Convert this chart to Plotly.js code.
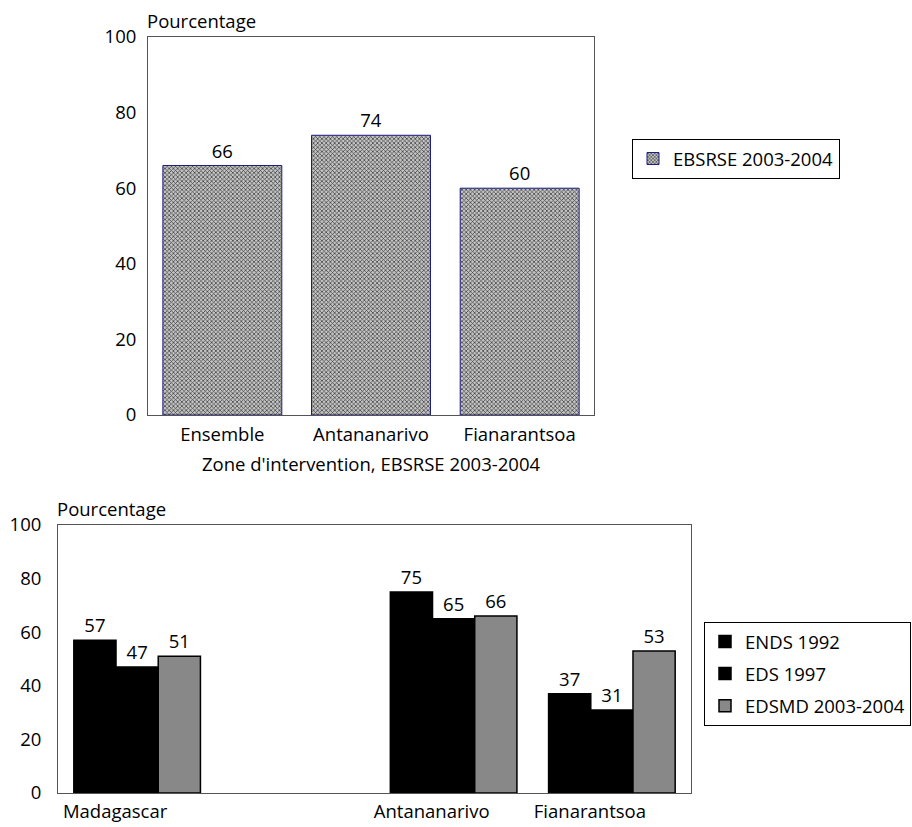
<!DOCTYPE html>
<html>
<head>
<meta charset="utf-8">
<script src="https://cdn.plot.ly/plotly-3.0.1.min.js"></script>
<style>
  html, body { margin: 0; padding: 0; background: #fff; }
  #chart { width: 912px; height: 827px; }
</style>
</head>
<body>
<div id="chart"></div>
<script>
// Zone d'intervention (EBSRSE 2003-2004)
const zoneCategories = ['Ensemble', 'Antananarivo', 'Fianarantsoa'];
const ebsrseValues = [66, 74, 60];

// National surveys by region; the second slot is left empty as a spacer
const regionCategories = ['Madagascar', ' ', 'Antananarivo', 'Fianarantsoa'];
const ends1992 = [57, null, 75, 37];
const eds1997 = [47, null, 65, 31];
const edsmd2003 = [51, null, 66, 53];

const seriesNames = ['EBSRSE 2003-2004', 'ENDS 1992', 'EDS 1997', 'EDSMD 2003-2004'];
const yTicks = [0, 20, 40, 60, 80, 100];

const FONT = 'Open Sans, Lato, sans-serif';
const FS = 18.5;

function labels(vals) {
  return vals.map(v => (v === null ? '' : String(v)));
}

const traces = [
  {
    type: 'bar', x: zoneCategories, y: ebsrseValues, name: seriesNames[0],
    xaxis: 'x', yaxis: 'y', legend: 'legend',
    text: labels(ebsrseValues), textposition: 'outside', cliponaxis: false,
    textfont: { family: FONT, size: FS, color: '#000' },
    marker: {
      color: '#9a9a9a',
      pattern: { shape: 'x', size: 3, solidity: 0.4, fgcolor: '#333', bgcolor: '#c4c4c4', fillmode: 'replace' },
      line: { color: '#1a1a80', width: 1 }
    }
  },
  {
    type: 'bar', x: regionCategories, y: ends1992, name: seriesNames[1],
    xaxis: 'x2', yaxis: 'y2', legend: 'legend2', legendgroup: 'a',
    text: labels(ends1992), textposition: 'outside', cliponaxis: false,
    textfont: { family: FONT, size: FS, color: '#000' },
    marker: { color: '#000', line: { color: '#000', width: 1.5 } }
  },
  {
    type: 'bar', x: regionCategories, y: eds1997, name: seriesNames[2],
    xaxis: 'x2', yaxis: 'y2', legend: 'legend2', legendgroup: 'b',
    text: labels(eds1997), textposition: 'outside', cliponaxis: false,
    textfont: { family: FONT, size: FS, color: '#000' },
    marker: { color: '#000', line: { color: '#000', width: 1.5 } }
  },
  {
    type: 'bar', x: regionCategories, y: edsmd2003, name: seriesNames[3],
    xaxis: 'x2', yaxis: 'y2', legend: 'legend2', legendgroup: 'c',
    text: labels(edsmd2003), textposition: 'outside', cliponaxis: false,
    textfont: { family: FONT, size: FS, color: '#000' },
    marker: { color: '#888888', line: { color: '#000', width: 1.5 } }
  }
];

const W = 912, H = 827;
const px = v => v / W;
const py = v => 1 - v / H;

const axisCommon = {
  showline: true, mirror: true, linewidth: 1,
  showgrid: false, zeroline: false, ticks: '',
  tickfont: { family: FONT, size: FS, color: '#000' },
  fixedrange: true
};

const layout = {
  width: W, height: H,
  margin: { l: 0, r: 0, t: 0, b: 0 },
  paper_bgcolor: '#fff', plot_bgcolor: '#fff',
  font: { family: FONT, size: FS, color: '#000' },
  barmode: 'group', bargap: 0.2, bargroupgap: 0,
  xaxis: Object.assign({}, axisCommon, {
    domain: [px(148), px(594)], anchor: 'y', linecolor: '#555',
    ticklabelstandoff: 3,
    title: { text: "Zone d'intervention, EBSRSE 2003-2004", font: { family: FONT, size: FS, color: '#000' }, standoff: 12 }
  }),
  yaxis: Object.assign({}, axisCommon, {
    domain: [py(415), py(37)], anchor: 'x', linecolor: '#555',
    range: [0, 100], tickvals: yTicks, ticklabelstandoff: 7
  }),
  xaxis2: Object.assign({}, axisCommon, {
    domain: [px(58), px(691)], anchor: 'y2', linecolor: '#555',
    ticklabelshift: -22, ticklabelstandoff: 2
  }),
  yaxis2: Object.assign({}, axisCommon, {
    domain: [py(793), py(525)], anchor: 'x2', linecolor: '#555',
    range: [0, 100], tickvals: yTicks, ticklabelstandoff: 12
  }),
  legend: {
    x: px(632), y: py(139), xanchor: 'left', yanchor: 'top',
    bordercolor: '#000', borderwidth: 1, bgcolor: '#fff', itemwidth: 30,
    font: { family: FONT, size: FS, color: '#000' }
  },
  legend2: {
    x: px(704), y: py(622), xanchor: 'left', yanchor: 'top',
    bordercolor: '#000', borderwidth: 1, bgcolor: '#fff', itemwidth: 30,
    tracegroupgap: 5,
    font: { family: FONT, size: FS, color: '#000' }
  },
  annotations: [
    {
      text: 'Pourcentage', xref: 'x domain', yref: 'y domain', x: 0, y: 1,
      xanchor: 'left', yanchor: 'bottom', yshift: 2, xshift: -3, showarrow: false,
      font: { family: FONT, size: FS, color: '#000' }
    },
    {
      text: 'Pourcentage', xref: 'x2 domain', yref: 'y2 domain', x: 0, y: 1,
      xanchor: 'left', yanchor: 'bottom', yshift: 2, xshift: -3, showarrow: false,
      font: { family: FONT, size: FS, color: '#000' }
    }
  ],
  showlegend: true
};

Plotly.newPlot('chart', traces, layout, { displayModeBar: false, staticPlot: true });
</script>
</body>
</html>
